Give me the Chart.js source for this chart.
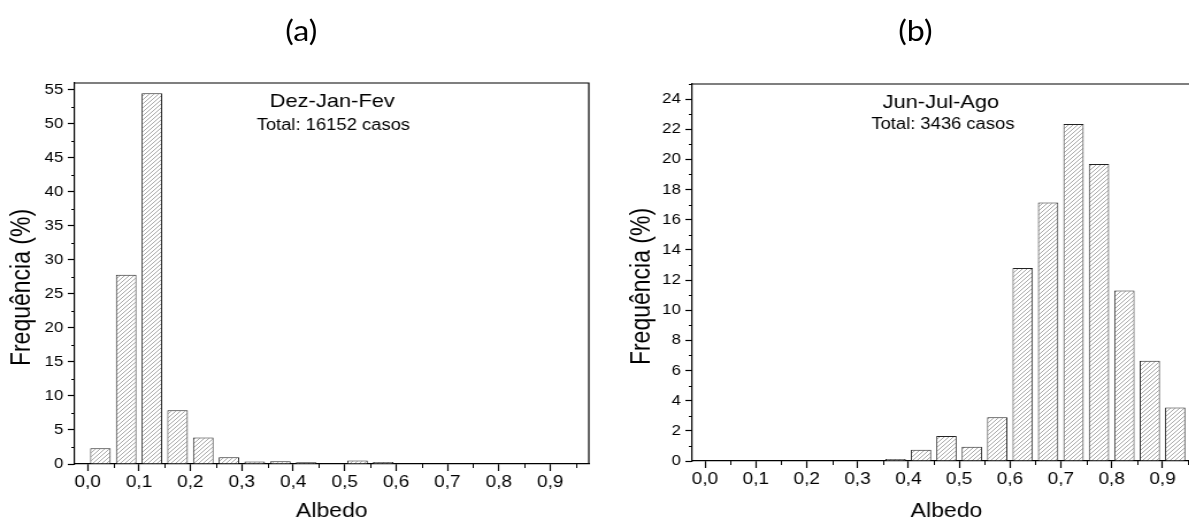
<!DOCTYPE html>
<html>
<head>
<meta charset="utf-8">
<script src="https://cdn.jsdelivr.net/npm/chart.js@4.4.1/dist/chart.umd.min.js"></script>
<style>
  body { margin: 0; background: #fff; overflow: hidden; width: 1189px; height: 519px; }
  #wrap { position: absolute; left: 0; top: 0; width: 1060px; height: 519px;
          transform: scaleX(1.15); transform-origin: 0 0; }
  .box { position: absolute; top: 0; }
  .lbl { position: absolute; top: 13px; font: 28px Lato, sans-serif; color: #000;
         transform: translateX(-50%); white-space: nowrap; }
</style>
</head>
<body>
<div id="wrap">
  <div class="lbl" style="left:262px">(a)</div>
  <div class="lbl" style="left:796px">(b)</div>
  <canvas id="chartA" class="box" style="left:0px" width="520" height="519"></canvas>
  <canvas id="chartB" class="box" style="left:530px" width="530" height="519"></canvas>
</div>
<script>
// albedo classes (bin centres, width 0.05)
var albedoBins = [0.025, 0.075, 0.125, 0.175, 0.225, 0.275, 0.325, 0.375, 0.425, 0.475,
                  0.525, 0.575, 0.625, 0.675, 0.725, 0.775, 0.825, 0.875, 0.925];

// frequency (%) per class
var freqDJF = [2.3, 27.8, 54.5, 7.9, 3.9, 1.0, 0.35, 0.4, 0.25, 0.1,
               0.5, 0.3, 0.1, 0, 0, 0, 0, 0, 0];
var freqJJA = [0, 0, 0, 0, 0, 0, 0, 0.13, 0.75, 1.66,
               0.95, 2.9, 12.8, 17.15, 22.35, 19.7, 11.3, 6.65, 3.55];

var xTicks = [0, 0.1, 0.2, 0.3, 0.4, 0.5, 0.6, 0.7, 0.8, 0.9];
var yTicksDJF = [0, 5, 10, 15, 20, 25, 30, 35, 40, 45, 50, 55];
var yTicksJJA = [0, 2, 4, 6, 8, 10, 12, 14, 16, 18, 20, 22, 24];

var FONT = '"Liberation Sans", Arial, sans-serif';

// minor ticks halfway between the major ones, up to the axis limit
function halfSteps(ticks, max) {
  var step = ticks[1] - ticks[0];
  return ticks.map(function (t) { return t + step / 2; })
              .filter(function (v) { return v <= max; });
}

function hatch(ctx) {
  var c = document.createElement('canvas');
  c.width = 4; c.height = 4;
  var g = c.getContext('2d');
  g.fillStyle = '#fff';
  g.fillRect(0, 0, 4, 4);
  g.strokeStyle = '#9a9a9a';
  g.lineWidth = 0.85;
  g.beginPath();
  g.moveTo(0, 4); g.lineTo(4, 0);
  g.moveTo(-1, 1); g.lineTo(1, -1);
  g.moveTo(3, 5); g.lineTo(5, 3);
  g.stroke();
  return ctx.createPattern(c, 'repeat');
}

// box, minor ticks, y title and the season labels inside the plot
var extras = {
  id: 'extras',
  afterDraw: function (chart, args, opts) {
    var ctx = chart.ctx, a = chart.chartArea, x = chart.scales.x, y = chart.scales.y;
    ctx.save();
    ctx.strokeStyle = '#000';
    ctx.lineWidth = 1.2;
    ctx.beginPath();
    ctx.moveTo(a.left, a.top);
    ctx.lineTo(a.right, a.top);
    ctx.lineTo(a.right, a.bottom);
    ctx.stroke();

    ctx.lineWidth = 1;
    ctx.beginPath();
    opts.xMinor.forEach(function (v) {
      var px = Math.round(x.getPixelForValue(v)) + 0.5;
      ctx.moveTo(px, a.bottom); ctx.lineTo(px, a.bottom + 4);
    });
    opts.yMinor.forEach(function (v) {
      var py = Math.round(y.getPixelForValue(v)) + 0.5;
      ctx.moveTo(a.left, py); ctx.lineTo(a.left - 3, py);
    });
    ctx.stroke();

    ctx.fillStyle = '#000';
    ctx.textAlign = 'center';
    ctx.textBaseline = 'middle';
    opts.notes.forEach(function (n) {
      ctx.font = n.size + 'px ' + FONT;
      ctx.fillText(n.text, x.getPixelForValue(n.x), y.getPixelForValue(n.y));
    });

    // y axis title, sitting a bit below the plot's middle
    ctx.translate(opts.titleX, (a.top + a.bottom) / 2 + 14);
    ctx.rotate(-Math.PI / 2);
    ctx.textBaseline = 'alphabetic';
    ctx.font = '23px ' + FONT;
    ctx.fillText('Frequência (%)', 0, 0);
    ctx.restore();
  }
};

function makeChart(id, values, yMax, yTicks, opt) {
  var canvas = document.getElementById(id);
  var ctx = canvas.getContext('2d');
  return new Chart(canvas, {
    type: 'bar',
    data: {
      datasets: [{
        data: albedoBins.map(function (b, i) { return { x: b, y: values[i] }; }),
        backgroundColor: hatch(ctx),
        borderColor: '#222',
        borderWidth: 1,
        borderSkipped: 'bottom',
        barPercentage: 0.8,
        categoryPercentage: 1
      }]
    },
    options: {
      responsive: false,
      animation: false,
      devicePixelRatio: 1,
      layout: { padding: { top: opt.top, right: opt.right, left: 0, bottom: 0 } },
      plugins: {
        legend: { display: false },
        tooltip: { enabled: false },
        extras: {
          xMinor: halfSteps(xTicks, 0.975),
          yMinor: halfSteps(yTicks, yMax),
          notes: opt.notes,
          titleX: opt.titleX
        }
      },
      scales: {
        x: {
          type: 'linear',
          min: -0.025,
          max: 0.975,
          offset: false,
          afterBuildTicks: function (s) { s.ticks = xTicks.map(function (v) { return { value: v }; }); },
          afterFit: function (s) { s.height = opt.xHeight; },
          grid: { drawOnChartArea: false, offset: false, tickLength: 7, tickColor: '#000', tickWidth: 1.2 },
          border: { color: '#000', width: 1.2 },
          ticks: {
            color: '#000', padding: 2, maxRotation: 0, autoSkip: false,
            font: { family: FONT, size: 16.5 },
            callback: function (v) { return v.toFixed(1).replace('.', ','); }
          },
          title: {
            display: true, text: 'Albedo', color: '#000',
            font: { family: FONT, size: 20, lineHeight: 0.8 }, padding: { top: 0, bottom: 0 }
          }
        },
        y: {
          min: 0,
          max: yMax,
          afterBuildTicks: function (s) { s.ticks = yTicks.map(function (v) { return { value: v }; }); },
          afterFit: function (s) { s.width = opt.yWidth; },
          grid: { drawOnChartArea: false, tickLength: 6, tickColor: '#000', tickWidth: 1.2 },
          border: { color: '#000', width: 1.2 },
          ticks: { color: '#000', padding: 4, font: { family: FONT, size: 14.5 } }
        }
      }
    },
    plugins: [extras]
  });
}

makeChart('chartA', freqDJF, 56, yTicksDJF, {
  top: 83, right: 8, xHeight: 55, yWidth: 65, titleX: 26,
  notes: [
    { text: 'Dez-Jan-Fev', x: 0.476, y: 53.2, size: 19 },
    { text: 'Total: 16152 casos', x: 0.478, y: 49.8, size: 16 }
  ]
});

makeChart('chartB', freqJJA, 25, yTicksJJA, {
  top: 84, right: 16, xHeight: 58, yWidth: 72, titleX: 35,
  notes: [
    { text: 'Jun-Jul-Ago', x: 0.464, y: 23.75, size: 19 },
    { text: 'Total: 3436 casos', x: 0.468, y: 22.3, size: 16 }
  ]
});
</script>
</body>
</html>
